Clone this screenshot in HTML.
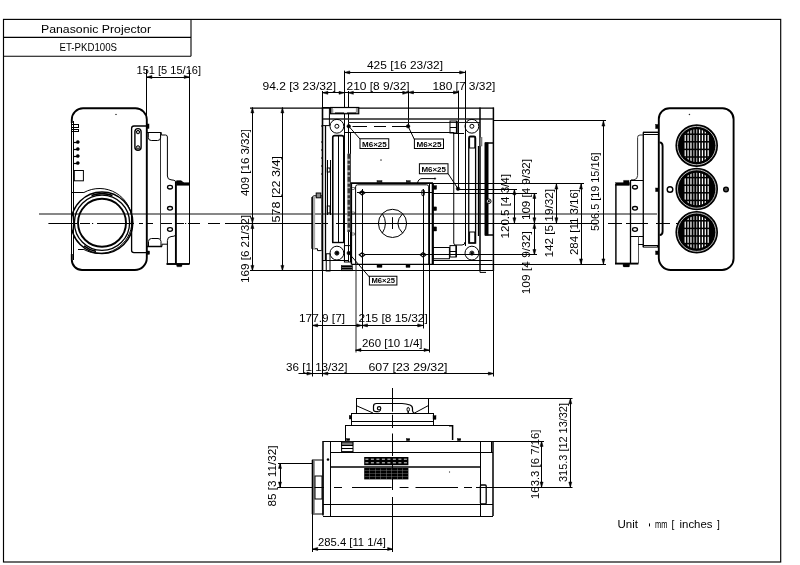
<!DOCTYPE html>
<html><head><meta charset="utf-8"><title>ET-PKD100S</title>
<style>
html,body{margin:0;padding:0;background:#fff;}
body{width:800px;height:565px;overflow:hidden;font-family:"Liberation Sans",sans-serif;}
svg{display:block;filter:grayscale(1);}
svg text{font-family:"Liberation Sans",sans-serif;}
</style></head><body>
<svg width="800" height="565" viewBox="0 0 800 565">
<rect x="0" y="0" width="800" height="565" fill="#fff"/>

<g id="frame">
<rect x="3.5" y="19.4" width="777.2" height="542.6" fill="none" stroke="#000" stroke-width="1.15"/>
<path d="M3.5 37.4 H191 M3.5 56.3 H191 M191 19.4 V56.3" fill="none" stroke="#000" stroke-width="1.1"/>
<text x="41" y="33.2" font-size="10" fill="#000" text-anchor="start" textLength="110" lengthAdjust="spacingAndGlyphs">Panasonic Projector</text>
<text x="59.5" y="51" font-size="10.4" fill="#000" text-anchor="start" textLength="57.5" lengthAdjust="spacingAndGlyphs">ET-PKD100S</text>
</g>
<g id="centre">
<path d="M39 214 H657" stroke="#111" stroke-width="1.14" fill="none" />
<line x1="48.4" y1="223.5" x2="77" y2="223.5" stroke="#000" stroke-width="1.0" />
<line x1="80" y1="223.5" x2="90" y2="223.5" stroke="#000" stroke-width="1.0" />
<line x1="92" y1="223.5" x2="93.2" y2="223.5" stroke="#000" stroke-width="1.0" />
<line x1="97" y1="223.5" x2="134" y2="223.5" stroke="#000" stroke-width="1.0" />
<line x1="139" y1="223.5" x2="143" y2="223.5" stroke="#000" stroke-width="1.0" />
<line x1="146" y1="223.5" x2="153" y2="223.5" stroke="#000" stroke-width="1.0" />
<line x1="160" y1="223.5" x2="172" y2="223.5" stroke="#000" stroke-width="1.0" />
<line x1="176" y1="223.5" x2="184" y2="223.5" stroke="#000" stroke-width="1.0" />
<line x1="185" y1="223.5" x2="186.2" y2="223.5" stroke="#000" stroke-width="1.0" />
<line x1="188" y1="223.5" x2="200" y2="223.5" stroke="#000" stroke-width="1.0" />
<line x1="208" y1="223.5" x2="220" y2="223.5" stroke="#000" stroke-width="1.0" />
<line x1="225" y1="223.5" x2="328" y2="223.5" stroke="#000" stroke-width="1.0" />
<line x1="336" y1="223.5" x2="597" y2="223.5" stroke="#000" stroke-width="1.0" />
<line x1="608" y1="223.5" x2="622" y2="223.5" stroke="#000" stroke-width="1.0" />
<line x1="626" y1="223.5" x2="648" y2="223.5" stroke="#000" stroke-width="1.0" />
<line x1="656" y1="223.5" x2="670" y2="223.5" stroke="#000" stroke-width="1.0" />
<line x1="676" y1="223.5" x2="680" y2="223.5" stroke="#000" stroke-width="1.0" />
</g>
<g id="leftview">
<path d="M71.8 123 V119.5 A11.2 11.2 0 0 1 83 108.3 H135.5 A11.3 11.3 0 0 1 146.8 119.6 V258 A12 12 0 0 1 134.8 270 H82 A10.2 10.2 0 0 1 71.8 259.8 V254" stroke="#000" stroke-width="1.9" fill="none" />
<line x1="71.5" y1="122" x2="71.5" y2="256" stroke="#000" stroke-width="1.0" />
<line x1="73.5" y1="121" x2="73.5" y2="260" stroke="#000" stroke-width="1.0" />
<line x1="72" y1="124.5" x2="79" y2="124.5" stroke="#000" stroke-width="1.0" />
<line x1="72" y1="127.5" x2="79" y2="127.5" stroke="#000" stroke-width="1.0" />
<line x1="72" y1="129.5" x2="79" y2="129.5" stroke="#000" stroke-width="1.0" />
<line x1="72" y1="131.5" x2="79" y2="131.5" stroke="#000" stroke-width="1.0" />
<line x1="78.5" y1="124.8" x2="78.5" y2="127.2" stroke="#000" stroke-width="1.0" />
<line x1="78.5" y1="129.3" x2="78.5" y2="131.6" stroke="#000" stroke-width="1.0" />
<circle cx="77.8" cy="142" r="1.6" stroke="#000" stroke-width="0.5" fill="#000"/>
<line x1="74" y1="142.5" x2="77" y2="142.5" stroke="#000" stroke-width="1.2" />
<circle cx="77.8" cy="149" r="1.6" stroke="#000" stroke-width="0.5" fill="#000"/>
<line x1="74" y1="149.5" x2="77" y2="149.5" stroke="#000" stroke-width="1.2" />
<circle cx="77.8" cy="156" r="1.6" stroke="#000" stroke-width="0.5" fill="#000"/>
<line x1="74" y1="156.5" x2="77" y2="156.5" stroke="#000" stroke-width="1.2" />
<circle cx="77.8" cy="163" r="1.6" stroke="#000" stroke-width="0.5" fill="#000"/>
<line x1="74" y1="163.5" x2="77" y2="163.5" stroke="#000" stroke-width="1.2" />
<rect x="74.3" y="170.5" width="9.1" height="10.3" rx="0" stroke="#000" stroke-width="1.0" fill="none"/>
<circle cx="116" cy="114.4" r="0.5" stroke="#000" stroke-width="0.3" fill="#000"/>
<path d="M147 126 H134 Q131.6 126 131.6 128.5 V250.5 Q131.6 252.6 134 252.6 H147" stroke="#000" stroke-width="1.32" fill="none" />
<rect x="134.9" y="128.6" width="6.2" height="21.8" rx="3.1" stroke="#000" stroke-width="1.4" fill="none"/>
<circle cx="138" cy="132.1" r="1.7" stroke="#000" stroke-width="1.0" fill="#aaa"/>
<circle cx="138" cy="147.4" r="1.7" stroke="#000" stroke-width="1.0" fill="#aaa"/>
<rect x="147" y="124" width="2" height="4.4" rx="0" stroke="#000" stroke-width="0.5" fill="#000"/>
<rect x="147" y="251" width="2.6" height="3.4" rx="0" stroke="#000" stroke-width="0.4" fill="#000"/>
<path d="M147 132.5 H161.3 V135" stroke="#000" stroke-width="1.0" fill="none" />
<line x1="160.5" y1="135" x2="160.5" y2="239" stroke="#333" stroke-width="1.0" />
<path d="M148.3 132.5 V137.5 Q148.3 140.5 151.3 140.5 H157.6 Q160.6 140.5 160.6 137.5 V132.5" stroke="#000" stroke-width="1.0" fill="none" />
<path d="M161.3 135 H165.5 Q167.4 135 167.4 137 V176 Q167.4 179.6 171 179.8 Q174.5 180 175.6 181.2" stroke="#000" stroke-width="1.0" fill="none" />
<path d="M148.5 246.5 V241.5 Q148.5 238.5 151.5 238.5 H158 Q161 238.5 161 241.5 V246.5" stroke="#000" stroke-width="1.0" fill="none" />
<line x1="147" y1="246.5" x2="162" y2="246.5" stroke="#000" stroke-width="1.5" />
<path d="M162 246.5 V244.2 H167.4" stroke="#000" stroke-width="1.0" fill="none" />
<path d="M175.6 235.3 Q174.5 236.4 171 236.6 Q167.4 236.8 167.4 240.5 V264" stroke="#000" stroke-width="1.0" fill="none" />
<line x1="166.5" y1="264" x2="189.6" y2="264" stroke="#000" stroke-width="1.9" />
<line x1="175.9" y1="181.2" x2="175.9" y2="264" stroke="#000" stroke-width="1.9" />
<line x1="189.5" y1="182" x2="189.5" y2="264" stroke="#000" stroke-width="1.0" />
<rect x="176.5" y="182.6" width="13.0" height="2.8" rx="0" stroke="#000" stroke-width="0.3" fill="#000"/>
<path d="M176.5 183 V180.6 H181 L184 182.8 Z" stroke="#000" stroke-width="0.3" fill="#000" />
<rect x="176.6" y="264" width="5.4" height="2.8" rx="1" stroke="#000" stroke-width="0.3" fill="#000"/>
<ellipse cx="170" cy="187.2" rx="2.5" ry="1.8" stroke="#000" stroke-width="1.3" fill="#fff"/>
<ellipse cx="170" cy="208.3" rx="2.5" ry="1.8" stroke="#000" stroke-width="1.3" fill="#fff"/>
<ellipse cx="170" cy="229.5" rx="2.5" ry="1.8" stroke="#000" stroke-width="1.3" fill="#fff"/>
<clipPath id="cl"><rect x="71.8" y="150" width="80" height="122"/></clipPath>
<g clip-path="url(#cl)">
<circle cx="102" cy="222.8" r="30.8" stroke="#000" stroke-width="1.5" fill="none"/>
<path d="M72 192.5 H83.9 A32.5 32.5 0 1 1 83.9 249.5 H78" stroke="#000" stroke-width="1.0" fill="none" />
</g>
<circle cx="102" cy="222.8" r="27.6" stroke="#000" stroke-width="1.3" fill="none"/>
<circle cx="102" cy="222.8" r="24" stroke="#000" stroke-width="1.9" fill="none"/>
<path d="M91.5 195.6 A29.2 29.2 0 0 1 112.5 195.6" stroke="#000" stroke-width="1.6" fill="none" />
<path d="M84 245.8 A29.2 29.2 0 0 0 96 251.4" stroke="#000" stroke-width="1.6" fill="none" />
</g>
<line x1="146.5" y1="70" x2="146.5" y2="124" stroke="#000" stroke-width="1.0" />
<line x1="189.5" y1="70" x2="189.5" y2="182" stroke="#000" stroke-width="1.0" />
<line x1="146.5" y1="77.5" x2="189.6" y2="77.5" stroke="#000" stroke-width="1.0" />
<path d="M151.90 75.50 L146.5 77 L151.90 78.50 Z" stroke="#000" stroke-width="0.5" fill="#000" />
<path d="M184.20 78.50 L189.6 77 L184.20 75.50 Z" stroke="#000" stroke-width="0.5" fill="#000" />
<text x="136.5" y="74.4" font-size="10" fill="#000" text-anchor="start" textLength="64.5" lengthAdjust="spacingAndGlyphs">151 [5 15/16]</text>
<g id="topview">
<line x1="322.5" y1="91" x2="322.5" y2="107.5" stroke="#000" stroke-width="1.0" />
<line x1="344.5" y1="70.6" x2="344.5" y2="262" stroke="#000" stroke-width="1.0" />
<line x1="348.5" y1="91" x2="348.5" y2="262" stroke="#000" stroke-width="1.0" />
<line x1="408.5" y1="91" x2="408.5" y2="126" stroke="#000" stroke-width="1.0" />
<line x1="458.5" y1="90.6" x2="458.5" y2="189" stroke="#000" stroke-width="1.0" />
<line x1="465.5" y1="70.6" x2="465.5" y2="246" stroke="#000" stroke-width="1.0" />
<path d="M250 108.1 H493.9" stroke="#000" stroke-width="1.2" fill="none" />
<line x1="250" y1="270.5" x2="493.75" y2="270.5" stroke="#000" stroke-width="1.0" />
<line x1="322.5" y1="107.5" x2="322.5" y2="376.5" stroke="#000" stroke-width="1.0" />
<line x1="322.5" y1="107.5" x2="322.5" y2="270.8" stroke="#000" stroke-width="1.6" />
<line x1="325.5" y1="126" x2="325.5" y2="260" stroke="#000" stroke-width="1.3" />
<line x1="493.4" y1="107.5" x2="493.4" y2="270.8" stroke="#000" stroke-width="1.5" />
<line x1="493.5" y1="271" x2="493.5" y2="376.5" stroke="#000" stroke-width="1.0" />
<line x1="322.5" y1="119" x2="493" y2="119" stroke="#222" stroke-width="1.7" />
<line x1="348" y1="122.5" x2="480" y2="122.5" stroke="#222" stroke-width="1.0" />
<line x1="352.5" y1="126.5" x2="367" y2="126.5" stroke="#000" stroke-width="1.0" />
<line x1="374" y1="126.5" x2="386" y2="126.5" stroke="#000" stroke-width="1.0" />
<line x1="392" y1="126.5" x2="408" y2="126.5" stroke="#000" stroke-width="1.0" />
<line x1="344.4" y1="132.5" x2="453.75" y2="132.5" stroke="#000" stroke-width="1.0" />
<line x1="453" y1="133.5" x2="464" y2="133.5" stroke="#000" stroke-width="1.0" />
<rect x="330.6" y="107.5" width="28.15" height="6.25" rx="0" stroke="#000" stroke-width="1.2" fill="#999"/>
<rect x="333.6" y="108.5" width="22.1" height="3.8" rx="0" stroke="#fff" stroke-width="0.5" fill="#fff"/>
<line x1="335" y1="113.2" x2="344" y2="113.2" stroke="#000" stroke-width="1.44" />
<line x1="347" y1="113.2" x2="356" y2="113.2" stroke="#000" stroke-width="1.44" />
<rect x="322.5" y="107.5" width="6.9" height="18.1" rx="0" stroke="#000" stroke-width="1.0" fill="none"/>
<circle cx="336.9" cy="126.25" r="6.9" stroke="#000" stroke-width="1.0" fill="none"/>
<circle cx="336.9" cy="126.25" r="2.0" stroke="#000" stroke-width="1.0" fill="none"/>
<circle cx="471.9" cy="126.25" r="6.9" stroke="#000" stroke-width="1.0" fill="none"/>
<circle cx="471.9" cy="126.25" r="2.0" stroke="#000" stroke-width="1.0" fill="none"/>
<circle cx="336.9" cy="253.1" r="6.9" stroke="#000" stroke-width="1.0" fill="none"/>
<circle cx="336.9" cy="253.1" r="2.0" stroke="#000" stroke-width="1.0" fill="none"/>
<circle cx="471.9" cy="253.1" r="6.9" stroke="#000" stroke-width="1.0" fill="none"/>
<circle cx="471.9" cy="253.1" r="2.0" stroke="#000" stroke-width="1.0" fill="none"/>
<circle cx="336.9" cy="253.1" r="1.6" stroke="#000" stroke-width="0.5" fill="#000"/>
<circle cx="471.9" cy="253.1" r="1.2" stroke="#000" stroke-width="0.5" fill="#000"/>
<path d="M332.75 242.5 V137.6 Q332.75 135.6 334.75 135.6 H341.75 Q343.75 135.6 343.75 137.6" stroke="#000" stroke-width="1.6" fill="none" />
<line x1="332" y1="242.5" x2="344.4" y2="242.5" stroke="#000" stroke-width="1.4" />
<line x1="338.5" y1="136" x2="338.5" y2="242" stroke="#000" stroke-width="1.0" />
<line x1="343.5" y1="136" x2="343.5" y2="242" stroke="#000" stroke-width="1.0" />
<rect x="327.25" y="168" width="2.75" height="4" rx="0" stroke="#000" stroke-width="1.0" fill="none"/>
<rect x="327.25" y="206" width="2.75" height="7" rx="0" stroke="#000" stroke-width="1.0" fill="none"/>
<line x1="327.5" y1="160" x2="327.5" y2="215" stroke="#000" stroke-width="1.0" />
<line x1="330.5" y1="160" x2="330.5" y2="215" stroke="#000" stroke-width="1.0" />
<line x1="350.5" y1="132" x2="350.5" y2="262" stroke="#000" stroke-width="1.0" />
<line x1="348.8" y1="153.75" x2="348.8" y2="232" stroke="#aaa" stroke-width="3.2"/>
<line x1="348.8" y1="153.75" x2="348.8" y2="232" stroke="#333" stroke-width="2.4" stroke-dasharray="5 2 3 1.5"/>
<line x1="321.3" y1="126" x2="322.5" y2="126" stroke="#000" stroke-width="1.44" />
<line x1="321.3" y1="142" x2="322.5" y2="142" stroke="#000" stroke-width="1.44" />
<line x1="321.3" y1="150" x2="322.5" y2="150" stroke="#000" stroke-width="1.44" />
<line x1="321.3" y1="158" x2="322.5" y2="158" stroke="#000" stroke-width="1.44" />
<line x1="321.3" y1="166" x2="322.5" y2="166" stroke="#000" stroke-width="1.44" />
<line x1="321.3" y1="174" x2="322.5" y2="174" stroke="#000" stroke-width="1.44" />
<path d="M322.5 195.8 H314 Q312.3 195.8 312.3 198 V248.75 H317.5 V250.6 H322.5" stroke="#000" stroke-width="1.0" fill="none" />
<line x1="321.5" y1="196" x2="321.5" y2="250.6" stroke="#555" stroke-width="1.0" />
<rect x="313" y="197" width="2" height="51.75" rx="0" stroke="#aaa" stroke-width="0.3" fill="#aaa"/>
<line x1="312.1" y1="197" x2="312.1" y2="248.75" stroke="#000" stroke-width="1.4" />
<rect x="316.2" y="193" width="4.6" height="4.8" rx="0" stroke="#000" stroke-width="1.0" fill="#888"/>
<line x1="312.5" y1="248" x2="312.5" y2="376.5" stroke="#000" stroke-width="1.0" />
<rect x="450" y="121" width="6.9" height="12" rx="0" stroke="#000" stroke-width="1.0" fill="none"/>
<line x1="456.7" y1="121" x2="456.7" y2="133" stroke="#000" stroke-width="1.6" />
<line x1="450" y1="127.5" x2="456.9" y2="127.5" stroke="#000" stroke-width="1.0" />
<line x1="480" y1="107.5" x2="480" y2="270.8" stroke="#000" stroke-width="1.5" />
<rect x="480" y="137.5" width="2" height="8.5" rx="0" stroke="#555" stroke-width="0.5" fill="#888"/>
<path d="M468.75 243 V138 Q468.75 136.25 470.5 136.25 H474 Q475.6 136.25 475.6 138 V243 Z" stroke="#000" stroke-width="1.3" fill="none" />
<rect x="469.6" y="137" width="5.2" height="11" rx="0" stroke="#000" stroke-width="1.0" fill="none"/>
<rect x="469.6" y="232" width="5.2" height="11" rx="0" stroke="#000" stroke-width="1.0" fill="none"/>
<line x1="478.5" y1="146" x2="478.5" y2="236" stroke="#000" stroke-width="1.3" />
<rect x="485" y="143" width="3" height="92" rx="0" stroke="#000" stroke-width="1.0" fill="#000"/>
<path d="M485 143 H493 M485 235 H493" stroke="#000" stroke-width="1.4" fill="none" />
<circle cx="488.75" cy="201.25" r="2.3" stroke="#000" stroke-width="1.0" fill="#fff"/>
<circle cx="488.75" cy="201.25" r="0.9" stroke="#000" stroke-width="0.4" fill="#000"/>
<path d="M453.75 132.25 V243 Q453.75 245 455.75 245 H462 Q465 245 465 242" stroke="#000" stroke-width="1.0" fill="none" />
<line x1="433" y1="260.5" x2="492.5" y2="260.5" stroke="#000" stroke-width="1.0" />
<line x1="433" y1="264.5" x2="493" y2="264.5" stroke="#000" stroke-width="1.0" />
<rect x="433" y="247.5" width="16.4" height="11.25" rx="0" stroke="#000" stroke-width="1.0" fill="none"/>
<rect x="450" y="245.6" width="6.25" height="11.4" rx="0" stroke="#000" stroke-width="1.0" fill="none"/>
<line x1="456.2" y1="245.6" x2="456.2" y2="257" stroke="#000" stroke-width="1.5" />
<line x1="450" y1="251.5" x2="456" y2="251.5" stroke="#000" stroke-width="1.0" />
<line x1="450" y1="254.5" x2="456" y2="254.5" stroke="#000" stroke-width="1.0" />
<path d="M480 270.8 V272.4 H486" stroke="#000" stroke-width="1.0" fill="none" />
<line x1="322.5" y1="260.5" x2="348.75" y2="260.5" stroke="#000" stroke-width="1.0" />
<rect x="326.25" y="253.75" width="3.75" height="17.25" rx="0" stroke="#000" stroke-width="1.0" fill="none"/>
<rect x="341.25" y="265.6" width="11.25" height="5.2" rx="0" stroke="#000" stroke-width="0.5" fill="#000"/>
<line x1="342" y1="267.5" x2="352" y2="267.5" stroke="#fff" stroke-width="0.4" />
<line x1="342" y1="269.5" x2="352" y2="269.5" stroke="#fff" stroke-width="0.4" />
<rect x="344.4" y="245.6" width="6.85" height="16.4" rx="0" stroke="#000" stroke-width="1.0" fill="none"/>
<line x1="350.6" y1="183.1" x2="433" y2="183.1" stroke="#000" stroke-width="1.6" />
<line x1="351.5" y1="264.4" x2="433" y2="264.4" stroke="#000" stroke-width="1.4" />
<line x1="351.4" y1="183" x2="351.4" y2="264.4" stroke="#000" stroke-width="1.44" />
<line x1="432.8" y1="183" x2="432.8" y2="264.4" stroke="#000" stroke-width="2.2" />
<line x1="429.5" y1="184" x2="429.5" y2="264" stroke="#000" stroke-width="1.0" />
<path d="M355.6 264 V186.8 Q355.6 184.8 357.6 184.8 H426.7 Q428.7 184.8 428.7 186.8 V264" stroke="#000" stroke-width="1.0" fill="none" />
<rect x="377" y="180.6" width="5" height="2.4" rx="0" stroke="#000" stroke-width="0.4" fill="#222"/>
<rect x="406.2" y="180.6" width="4.0" height="2.4" rx="0" stroke="#000" stroke-width="0.4" fill="#222"/>
<rect x="377" y="264.6" width="5" height="2.8" rx="0" stroke="#000" stroke-width="0.4" fill="#000"/>
<rect x="406" y="264.6" width="4" height="2.8" rx="0" stroke="#000" stroke-width="0.4" fill="#000"/>
<rect x="433" y="185.6" width="3.6" height="3.8" rx="0" stroke="#000" stroke-width="0.4" fill="#000"/>
<rect x="433" y="206.9" width="3.6" height="3.7" rx="0" stroke="#000" stroke-width="0.4" fill="#000"/>
<rect x="433" y="226.9" width="3.6" height="4.1" rx="0" stroke="#000" stroke-width="0.4" fill="#000"/>
<rect x="351.6" y="187.5" width="2.9" height="2.0" rx="0" stroke="#000" stroke-width="0.5" fill="none"/>
<rect x="351.6" y="212" width="2.9" height="2" rx="0" stroke="#000" stroke-width="0.5" fill="none"/>
<rect x="351.6" y="233" width="2.9" height="2" rx="0" stroke="#000" stroke-width="0.5" fill="none"/>
<path d="M417.5 183 Q418.5 178.6 422 178.6 H435" stroke="#000" stroke-width="1.0" fill="none" />
<circle cx="435" cy="178.6" r="0.8" stroke="#000" stroke-width="0.4" fill="#000"/>
<line x1="357" y1="192.5" x2="433" y2="192.5" stroke="#000" stroke-width="1.0" />
<line x1="364" y1="254.5" x2="433" y2="254.5" stroke="#000" stroke-width="1.0" />
<line x1="362.5" y1="189" x2="362.5" y2="328.5" stroke="#000" stroke-width="1.0" />
<line x1="423.5" y1="189" x2="423.5" y2="328.5" stroke="#000" stroke-width="1.0" />
<path d="M359.3 192.8 L362.1 190.70000000000002 L364.90000000000003 192.8 L362.1 194.9 Z" stroke="#000" stroke-width="1.2" fill="none" />
<path d="M359.3 254.8 L362.1 252.70000000000002 L364.90000000000003 254.8 L362.1 256.90000000000003 Z" stroke="#000" stroke-width="1.2" fill="none" />
<rect x="421.90000000000003" y="189.8" width="2.4" height="6.0" rx="1.2" stroke="#000" stroke-width="1.0" fill="none"/>
<path d="M420.2 254.8 L423.1 252.5 L426 254.8 L423.1 257.1 Z" stroke="#000" stroke-width="1.2" fill="none" />
<circle cx="381" cy="160" r="0.5" stroke="#000" stroke-width="0.3" fill="#000"/>
<circle cx="392.5" cy="223.4" r="14.1" stroke="#000" stroke-width="1.0" fill="none"/>
<path d="M382.3 213.6 Q388.6 223.4 382.3 233.2" stroke="#000" stroke-width="1.0" fill="none" />
<path d="M402.7 213.6 Q393 223.4 402.7 233.2" stroke="#000" stroke-width="1.0" fill="none" />
<line x1="392.5" y1="217.2" x2="392.5" y2="229" stroke="#000" stroke-width="1.0" />
<path d="M348.75 126.25 L360 139" stroke="#000" stroke-width="1.0" fill="none" />
<rect x="360" y="138.75" width="28.75" height="9.75" rx="0" stroke="#000" stroke-width="1.0" fill="#fff"/>
<text x="362" y="146.5" font-size="7.8" font-weight="bold" fill="#000" textLength="24.8" lengthAdjust="spacingAndGlyphs">M6×25</text>
<path d="M408.1 126.25 L414.4 139.5" stroke="#000" stroke-width="1.0" fill="none" />
<rect x="414.4" y="139" width="29.1" height="9.5" rx="0" stroke="#000" stroke-width="1.0" fill="#fff"/>
<text x="416.4" y="146.5" font-size="7.8" font-weight="bold" fill="#000" textLength="25.1" lengthAdjust="spacingAndGlyphs">M6×25</text>
<path d="M448 173.5 L458 188.75" stroke="#000" stroke-width="1.0" fill="none" />
<rect x="419.4" y="163.75" width="28.6" height="10.0" rx="0" stroke="#000" stroke-width="1.0" fill="#fff"/>
<text x="421.4" y="171.75" font-size="7.8" font-weight="bold" fill="#000" textLength="24.6" lengthAdjust="spacingAndGlyphs">M6×25</text>
<path d="M348.75 253.1 L369.4 277" stroke="#000" stroke-width="1.0" fill="none" />
<rect x="369.4" y="276.25" width="27.5" height="8.75" rx="0" stroke="#000" stroke-width="1.0" fill="#fff"/>
<text x="371.4" y="283.0" font-size="7.8" font-weight="bold" fill="#000" textLength="23.5" lengthAdjust="spacingAndGlyphs">M6×25</text>
<circle cx="348.75" cy="126.25" r="1.8" stroke="#000" stroke-width="0.5" fill="#000"/>
<circle cx="408.1" cy="126.25" r="1.8" stroke="#000" stroke-width="0.5" fill="#000"/>
<circle cx="458" cy="188.75" r="1.8" stroke="#000" stroke-width="0.5" fill="#000"/>
<circle cx="348.75" cy="253.1" r="1.8" stroke="#000" stroke-width="0.5" fill="#000"/>
<line x1="493" y1="120.5" x2="606" y2="120.5" stroke="#000" stroke-width="1.0" />
<line x1="433" y1="183.5" x2="584" y2="183.5" stroke="#000" stroke-width="1.0" />
<line x1="458" y1="189.5" x2="517" y2="189.5" stroke="#000" stroke-width="1.0" />
<line x1="433" y1="193.5" x2="537" y2="193.5" stroke="#000" stroke-width="1.0" />
<line x1="433" y1="254.5" x2="537" y2="254.5" stroke="#000" stroke-width="1.0" />
<line x1="493" y1="264.5" x2="606" y2="264.5" stroke="#000" stroke-width="1.0" />
<path d="M356 262 V352.5" stroke="#222" stroke-width="1.0" fill="none" />
<line x1="429.5" y1="262" x2="429.5" y2="352.5" stroke="#000" stroke-width="1.0" />
</g>
<line x1="344.4" y1="72.5" x2="465" y2="72.5" stroke="#000" stroke-width="1.0" />
<path d="M349.80 70.90 L344.4 72.4 L349.80 73.90 Z" stroke="#000" stroke-width="0.5" fill="#000" />
<path d="M459.60 73.90 L465 72.4 L459.60 70.90 Z" stroke="#000" stroke-width="0.5" fill="#000" />
<text x="367" y="69" font-size="10" fill="#000" text-anchor="start" textLength="76" lengthAdjust="spacingAndGlyphs">425 [16 23/32]</text>
<line x1="322.5" y1="92.5" x2="344.4" y2="92.5" stroke="#000" stroke-width="1.0" />
<path d="M327.90 91.30 L322.5 92.8 L327.90 94.30 Z" stroke="#000" stroke-width="0.5" fill="#000" />
<path d="M339.00 94.30 L344.4 92.8 L339.00 91.30 Z" stroke="#000" stroke-width="0.5" fill="#000" />
<line x1="344.4" y1="92.5" x2="348" y2="92.5" stroke="#000" stroke-width="1.0" />
<text x="262.5" y="90" font-size="10" fill="#000" text-anchor="start" textLength="73.5" lengthAdjust="spacingAndGlyphs">94.2 [3 23/32]</text>
<line x1="348" y1="92.5" x2="408.1" y2="92.5" stroke="#000" stroke-width="1.0" />
<path d="M353.40 91.30 L348 92.8 L353.40 94.30 Z" stroke="#000" stroke-width="0.5" fill="#000" />
<path d="M402.70 94.30 L408.1 92.8 L402.70 91.30 Z" stroke="#000" stroke-width="0.5" fill="#000" />
<text x="346.6" y="90" font-size="10" fill="#000" text-anchor="start" textLength="63" lengthAdjust="spacingAndGlyphs">210 [8 9/32]</text>
<line x1="408.1" y1="92.5" x2="458.9" y2="92.5" stroke="#000" stroke-width="1.0" />
<path d="M413.50 90.90 L408.1 92.4 L413.50 93.90 Z" stroke="#000" stroke-width="0.5" fill="#000" />
<path d="M453.50 93.90 L458.9 92.4 L453.50 90.90 Z" stroke="#000" stroke-width="0.5" fill="#000" />
<text x="432.4" y="90" font-size="10" fill="#000" text-anchor="start" textLength="63" lengthAdjust="spacingAndGlyphs">180 [7 3/32]</text>
<line x1="252.5" y1="107.5" x2="252.5" y2="223.2" stroke="#000" stroke-width="1.0" />
<path d="M253.90 112.90 L252.4 107.5 L250.90 112.90 Z" stroke="#000" stroke-width="0.5" fill="#000" />
<path d="M250.90 217.80 L252.4 223.2 L253.90 217.80 Z" stroke="#000" stroke-width="0.5" fill="#000" />
<line x1="252.5" y1="223.2" x2="252.5" y2="270.8" stroke="#000" stroke-width="1.0" />
<path d="M253.90 228.60 L252.4 223.2 L250.90 228.60 Z" stroke="#000" stroke-width="0.5" fill="#000" />
<path d="M250.90 265.40 L252.4 270.8 L253.90 265.40 Z" stroke="#000" stroke-width="0.5" fill="#000" />
<line x1="282.5" y1="107.5" x2="282.5" y2="270.8" stroke="#000" stroke-width="1.0" />
<path d="M283.90 112.90 L282.4 107.5 L280.90 112.90 Z" stroke="#000" stroke-width="0.5" fill="#000" />
<path d="M280.90 265.40 L282.4 270.8 L283.90 265.40 Z" stroke="#000" stroke-width="0.5" fill="#000" />
<text x="248.6" y="196" font-size="10" fill="#000" text-anchor="start" textLength="67" lengthAdjust="spacingAndGlyphs" transform="rotate(-90 248.6 196)">409 [16 3/32]</text>
<text x="279.6" y="222.5" font-size="10" fill="#000" text-anchor="start" textLength="66.5" lengthAdjust="spacingAndGlyphs" transform="rotate(-90 279.6 222.5)">578 [22 3/4]</text>
<text x="248.6" y="283" font-size="10" fill="#000" text-anchor="start" textLength="68" lengthAdjust="spacingAndGlyphs" transform="rotate(-90 248.6 283)">169 [6 21/32]</text>
<line x1="514.5" y1="189.3" x2="514.5" y2="223.2" stroke="#000" stroke-width="1.0" />
<path d="M515.90 194.70 L514.4 189.3 L512.90 194.70 Z" stroke="#000" stroke-width="0.5" fill="#000" />
<path d="M512.90 217.80 L514.4 223.2 L515.90 217.80 Z" stroke="#000" stroke-width="0.5" fill="#000" />
<text x="509.2" y="238.5" font-size="10" fill="#000" text-anchor="start" textLength="64.5" lengthAdjust="spacingAndGlyphs" transform="rotate(-90 509.2 238.5)">120.5 [4 3/4]</text>
<line x1="534.5" y1="193" x2="534.5" y2="223.2" stroke="#000" stroke-width="1.0" />
<path d="M535.90 198.40 L534.4 193 L532.90 198.40 Z" stroke="#000" stroke-width="0.5" fill="#000" />
<path d="M532.90 217.80 L534.4 223.2 L535.90 217.80 Z" stroke="#000" stroke-width="0.5" fill="#000" />
<line x1="534.5" y1="223.2" x2="534.5" y2="254.9" stroke="#000" stroke-width="1.0" />
<path d="M535.90 228.60 L534.4 223.2 L532.90 228.60 Z" stroke="#000" stroke-width="0.5" fill="#000" />
<path d="M532.90 249.50 L534.4 254.9 L535.90 249.50 Z" stroke="#000" stroke-width="0.5" fill="#000" />
<text x="530" y="220" font-size="10" fill="#000" text-anchor="start" textLength="61" lengthAdjust="spacingAndGlyphs" transform="rotate(-90 530 220)">109 [4 9/32]</text>
<text x="529.8" y="294.3" font-size="10" fill="#000" text-anchor="start" textLength="63" lengthAdjust="spacingAndGlyphs" transform="rotate(-90 529.8 294.3)">109 [4 9/32]</text>
<line x1="556.5" y1="183.7" x2="556.5" y2="223.2" stroke="#000" stroke-width="1.0" />
<path d="M557.90 189.10 L556.4 183.7 L554.90 189.10 Z" stroke="#000" stroke-width="0.5" fill="#000" />
<path d="M554.90 217.80 L556.4 223.2 L557.90 217.80 Z" stroke="#000" stroke-width="0.5" fill="#000" />
<text x="552.6" y="257.5" font-size="10" fill="#000" text-anchor="start" textLength="68.5" lengthAdjust="spacingAndGlyphs" transform="rotate(-90 552.6 257.5)">142 [5 19/32]</text>
<line x1="581.5" y1="183.7" x2="581.5" y2="264.3" stroke="#000" stroke-width="1.0" />
<path d="M582.50 189.10 L581 183.7 L579.50 189.10 Z" stroke="#000" stroke-width="0.5" fill="#000" />
<path d="M579.50 258.90 L581 264.3 L582.50 258.90 Z" stroke="#000" stroke-width="0.5" fill="#000" />
<text x="577.5" y="255" font-size="10" fill="#000" text-anchor="start" textLength="66" lengthAdjust="spacingAndGlyphs" transform="rotate(-90 577.5 255)">284 [11 3/16]</text>
<line x1="603.5" y1="120.7" x2="603.5" y2="264.3" stroke="#000" stroke-width="1.0" />
<path d="M604.90 126.10 L603.4 120.7 L601.90 126.10 Z" stroke="#000" stroke-width="0.5" fill="#000" />
<path d="M601.90 258.90 L603.4 264.3 L604.90 258.90 Z" stroke="#000" stroke-width="0.5" fill="#000" />
<text x="599" y="231" font-size="10" fill="#000" text-anchor="start" textLength="78.5" lengthAdjust="spacingAndGlyphs" transform="rotate(-90 599 231)">506.5 [19 15/16]</text>
<line x1="312.3" y1="325.5" x2="362.1" y2="325.5" stroke="#000" stroke-width="1.0" />
<path d="M317.70 323.90 L312.3 325.4 L317.70 326.90 Z" stroke="#000" stroke-width="0.5" fill="#000" />
<path d="M356.70 326.90 L362.1 325.4 L356.70 323.90 Z" stroke="#000" stroke-width="0.5" fill="#000" />
<text x="299" y="322" font-size="10" fill="#000" text-anchor="start" textLength="46" lengthAdjust="spacingAndGlyphs">177.9 [7]</text>
<line x1="362.1" y1="325.5" x2="423.1" y2="325.5" stroke="#000" stroke-width="1.0" />
<path d="M367.50 323.90 L362.1 325.4 L367.50 326.90 Z" stroke="#000" stroke-width="0.5" fill="#000" />
<path d="M417.70 326.90 L423.1 325.4 L417.70 323.90 Z" stroke="#000" stroke-width="0.5" fill="#000" />
<text x="358.4" y="322" font-size="10" fill="#000" text-anchor="start" textLength="69.4" lengthAdjust="spacingAndGlyphs">215 [8 15/32]</text>
<line x1="355.6" y1="350.5" x2="429.4" y2="350.5" stroke="#000" stroke-width="1.0" />
<path d="M361.00 348.50 L355.6 350 L361.00 351.50 Z" stroke="#000" stroke-width="0.5" fill="#000" />
<path d="M424.00 351.50 L429.4 350 L424.00 348.50 Z" stroke="#000" stroke-width="0.5" fill="#000" />
<text x="362" y="346.8" font-size="10" fill="#000" text-anchor="start" textLength="60.5" lengthAdjust="spacingAndGlyphs">260 [10 1/4]</text>
<line x1="298.5" y1="373.5" x2="493.75" y2="373.5" stroke="#000" stroke-width="1.0" />
<path d="M306.90 375.10 L312.3 373.6 L306.90 372.10 Z" stroke="#000" stroke-width="0.5" fill="#000" />
<path d="M327.90 372.10 L322.5 373.6 L327.90 375.10 Z" stroke="#000" stroke-width="0.5" fill="#000" />
<path d="M488.35 375.10 L493.75 373.6 L488.35 372.10 Z" stroke="#000" stroke-width="0.5" fill="#000" />
<text x="286" y="370.6" font-size="10" fill="#000" text-anchor="start" textLength="61.5" lengthAdjust="spacingAndGlyphs">36 [1 13/32]</text>
<text x="368.5" y="370.6" font-size="10" fill="#000" text-anchor="start" textLength="79" lengthAdjust="spacingAndGlyphs">607 [23 29/32]</text>
<g id="rightview">
<path d="M669.5 108.3 H722.6 A11 11 0 0 1 733.6 119.3 V258.5 A11.5 11.5 0 0 1 722.1 270 H670.8 A12 12 0 0 1 658.8 258 V119 A10.7 10.7 0 0 1 669.5 108.3 Z" stroke="#000" stroke-width="1.9" fill="none" />
<circle cx="689.4" cy="114.4" r="0.5" stroke="#000" stroke-width="0.3" fill="#000"/>
<defs><clipPath id="fc"><circle cx="0" cy="0" r="16.3"/></clipPath></defs>
<g transform="translate(696.7 145.6)">
<circle cx="0" cy="0" r="20.6" stroke="#000" stroke-width="1.4" fill="#000"/>
<circle cx="0" cy="0" r="19.2" stroke="#bbb" stroke-width="1.0" fill="none"/>
<g clip-path="url(#fc)">
<rect x="-12.10" y="-18.25" width="1.24" height="6.1" fill="#fff"/>
<rect x="-9.23" y="-18.25" width="1.24" height="6.1" fill="#fff"/>
<rect x="-6.36" y="-18.25" width="1.24" height="6.1" fill="#fff"/>
<rect x="-3.49" y="-18.25" width="1.24" height="6.1" fill="#aaa"/>
<rect x="-0.62" y="-18.25" width="1.24" height="6.1" fill="#aaa"/>
<rect x="2.25" y="-18.25" width="1.24" height="6.1" fill="#fff"/>
<rect x="5.12" y="-18.25" width="1.24" height="6.1" fill="#fff"/>
<rect x="7.99" y="-18.25" width="1.24" height="6.1" fill="#fff"/>
<rect x="10.86" y="-18.25" width="1.24" height="6.1" fill="#fff"/>
<rect x="-12.10" y="-10.65" width="1.24" height="6.1" fill="#fff"/>
<rect x="-9.23" y="-10.65" width="1.24" height="6.1" fill="#fff"/>
<rect x="-6.36" y="-10.65" width="1.24" height="6.1" fill="#fff"/>
<rect x="-3.49" y="-10.65" width="1.24" height="6.1" fill="#aaa"/>
<rect x="-0.62" y="-10.65" width="1.24" height="6.1" fill="#aaa"/>
<rect x="2.25" y="-10.65" width="1.24" height="6.1" fill="#fff"/>
<rect x="5.12" y="-10.65" width="1.24" height="6.1" fill="#fff"/>
<rect x="7.99" y="-10.65" width="1.24" height="6.1" fill="#fff"/>
<rect x="10.86" y="-10.65" width="1.24" height="6.1" fill="#fff"/>
<rect x="-12.10" y="-3.05" width="1.24" height="6.1" fill="#fff"/>
<rect x="-9.23" y="-3.05" width="1.24" height="6.1" fill="#fff"/>
<rect x="-6.36" y="-3.05" width="1.24" height="6.1" fill="#fff"/>
<rect x="-3.49" y="-3.05" width="1.24" height="6.1" fill="#aaa"/>
<rect x="-0.62" y="-3.05" width="1.24" height="6.1" fill="#aaa"/>
<rect x="2.25" y="-3.05" width="1.24" height="6.1" fill="#fff"/>
<rect x="5.12" y="-3.05" width="1.24" height="6.1" fill="#fff"/>
<rect x="7.99" y="-3.05" width="1.24" height="6.1" fill="#fff"/>
<rect x="10.86" y="-3.05" width="1.24" height="6.1" fill="#fff"/>
<rect x="-12.10" y="4.55" width="1.24" height="6.1" fill="#fff"/>
<rect x="-9.23" y="4.55" width="1.24" height="6.1" fill="#fff"/>
<rect x="-6.36" y="4.55" width="1.24" height="6.1" fill="#fff"/>
<rect x="-3.49" y="4.55" width="1.24" height="6.1" fill="#aaa"/>
<rect x="-0.62" y="4.55" width="1.24" height="6.1" fill="#aaa"/>
<rect x="2.25" y="4.55" width="1.24" height="6.1" fill="#fff"/>
<rect x="5.12" y="4.55" width="1.24" height="6.1" fill="#fff"/>
<rect x="7.99" y="4.55" width="1.24" height="6.1" fill="#fff"/>
<rect x="10.86" y="4.55" width="1.24" height="6.1" fill="#fff"/>
<rect x="-12.10" y="12.15" width="1.24" height="6.1" fill="#fff"/>
<rect x="-9.23" y="12.15" width="1.24" height="6.1" fill="#fff"/>
<rect x="-6.36" y="12.15" width="1.24" height="6.1" fill="#fff"/>
<rect x="-3.49" y="12.15" width="1.24" height="6.1" fill="#aaa"/>
<rect x="-0.62" y="12.15" width="1.24" height="6.1" fill="#aaa"/>
<rect x="2.25" y="12.15" width="1.24" height="6.1" fill="#fff"/>
<rect x="5.12" y="12.15" width="1.24" height="6.1" fill="#fff"/>
<rect x="7.99" y="12.15" width="1.24" height="6.1" fill="#fff"/>
<rect x="10.86" y="12.15" width="1.24" height="6.1" fill="#fff"/>
</g></g>
<g transform="translate(696.7 189)">
<circle cx="0" cy="0" r="20.6" stroke="#000" stroke-width="1.4" fill="#000"/>
<circle cx="0" cy="0" r="19.2" stroke="#bbb" stroke-width="1.0" fill="none"/>
<g clip-path="url(#fc)">
<rect x="-12.10" y="-18.25" width="1.24" height="6.1" fill="#fff"/>
<rect x="-9.23" y="-18.25" width="1.24" height="6.1" fill="#fff"/>
<rect x="-6.36" y="-18.25" width="1.24" height="6.1" fill="#fff"/>
<rect x="-3.49" y="-18.25" width="1.24" height="6.1" fill="#aaa"/>
<rect x="-0.62" y="-18.25" width="1.24" height="6.1" fill="#aaa"/>
<rect x="2.25" y="-18.25" width="1.24" height="6.1" fill="#fff"/>
<rect x="5.12" y="-18.25" width="1.24" height="6.1" fill="#fff"/>
<rect x="7.99" y="-18.25" width="1.24" height="6.1" fill="#fff"/>
<rect x="10.86" y="-18.25" width="1.24" height="6.1" fill="#fff"/>
<rect x="-12.10" y="-10.65" width="1.24" height="6.1" fill="#fff"/>
<rect x="-9.23" y="-10.65" width="1.24" height="6.1" fill="#fff"/>
<rect x="-6.36" y="-10.65" width="1.24" height="6.1" fill="#fff"/>
<rect x="-3.49" y="-10.65" width="1.24" height="6.1" fill="#aaa"/>
<rect x="-0.62" y="-10.65" width="1.24" height="6.1" fill="#aaa"/>
<rect x="2.25" y="-10.65" width="1.24" height="6.1" fill="#fff"/>
<rect x="5.12" y="-10.65" width="1.24" height="6.1" fill="#fff"/>
<rect x="7.99" y="-10.65" width="1.24" height="6.1" fill="#fff"/>
<rect x="10.86" y="-10.65" width="1.24" height="6.1" fill="#fff"/>
<rect x="-12.10" y="-3.05" width="1.24" height="6.1" fill="#fff"/>
<rect x="-9.23" y="-3.05" width="1.24" height="6.1" fill="#fff"/>
<rect x="-6.36" y="-3.05" width="1.24" height="6.1" fill="#fff"/>
<rect x="-3.49" y="-3.05" width="1.24" height="6.1" fill="#aaa"/>
<rect x="-0.62" y="-3.05" width="1.24" height="6.1" fill="#aaa"/>
<rect x="2.25" y="-3.05" width="1.24" height="6.1" fill="#fff"/>
<rect x="5.12" y="-3.05" width="1.24" height="6.1" fill="#fff"/>
<rect x="7.99" y="-3.05" width="1.24" height="6.1" fill="#fff"/>
<rect x="10.86" y="-3.05" width="1.24" height="6.1" fill="#fff"/>
<rect x="-12.10" y="4.55" width="1.24" height="6.1" fill="#fff"/>
<rect x="-9.23" y="4.55" width="1.24" height="6.1" fill="#fff"/>
<rect x="-6.36" y="4.55" width="1.24" height="6.1" fill="#fff"/>
<rect x="-3.49" y="4.55" width="1.24" height="6.1" fill="#aaa"/>
<rect x="-0.62" y="4.55" width="1.24" height="6.1" fill="#aaa"/>
<rect x="2.25" y="4.55" width="1.24" height="6.1" fill="#fff"/>
<rect x="5.12" y="4.55" width="1.24" height="6.1" fill="#fff"/>
<rect x="7.99" y="4.55" width="1.24" height="6.1" fill="#fff"/>
<rect x="10.86" y="4.55" width="1.24" height="6.1" fill="#fff"/>
<rect x="-12.10" y="12.15" width="1.24" height="6.1" fill="#fff"/>
<rect x="-9.23" y="12.15" width="1.24" height="6.1" fill="#fff"/>
<rect x="-6.36" y="12.15" width="1.24" height="6.1" fill="#fff"/>
<rect x="-3.49" y="12.15" width="1.24" height="6.1" fill="#aaa"/>
<rect x="-0.62" y="12.15" width="1.24" height="6.1" fill="#aaa"/>
<rect x="2.25" y="12.15" width="1.24" height="6.1" fill="#fff"/>
<rect x="5.12" y="12.15" width="1.24" height="6.1" fill="#fff"/>
<rect x="7.99" y="12.15" width="1.24" height="6.1" fill="#fff"/>
<rect x="10.86" y="12.15" width="1.24" height="6.1" fill="#fff"/>
</g></g>
<g transform="translate(696.7 232.2)">
<circle cx="0" cy="0" r="20.6" stroke="#000" stroke-width="1.4" fill="#000"/>
<circle cx="0" cy="0" r="19.2" stroke="#bbb" stroke-width="1.0" fill="none"/>
<g clip-path="url(#fc)">
<rect x="-12.10" y="-18.25" width="1.24" height="6.1" fill="#fff"/>
<rect x="-9.23" y="-18.25" width="1.24" height="6.1" fill="#fff"/>
<rect x="-6.36" y="-18.25" width="1.24" height="6.1" fill="#fff"/>
<rect x="-3.49" y="-18.25" width="1.24" height="6.1" fill="#aaa"/>
<rect x="-0.62" y="-18.25" width="1.24" height="6.1" fill="#aaa"/>
<rect x="2.25" y="-18.25" width="1.24" height="6.1" fill="#fff"/>
<rect x="5.12" y="-18.25" width="1.24" height="6.1" fill="#fff"/>
<rect x="7.99" y="-18.25" width="1.24" height="6.1" fill="#fff"/>
<rect x="10.86" y="-18.25" width="1.24" height="6.1" fill="#fff"/>
<rect x="-12.10" y="-10.65" width="1.24" height="6.1" fill="#fff"/>
<rect x="-9.23" y="-10.65" width="1.24" height="6.1" fill="#fff"/>
<rect x="-6.36" y="-10.65" width="1.24" height="6.1" fill="#fff"/>
<rect x="-3.49" y="-10.65" width="1.24" height="6.1" fill="#aaa"/>
<rect x="-0.62" y="-10.65" width="1.24" height="6.1" fill="#aaa"/>
<rect x="2.25" y="-10.65" width="1.24" height="6.1" fill="#fff"/>
<rect x="5.12" y="-10.65" width="1.24" height="6.1" fill="#fff"/>
<rect x="7.99" y="-10.65" width="1.24" height="6.1" fill="#fff"/>
<rect x="10.86" y="-10.65" width="1.24" height="6.1" fill="#fff"/>
<rect x="-12.10" y="-3.05" width="1.24" height="6.1" fill="#fff"/>
<rect x="-9.23" y="-3.05" width="1.24" height="6.1" fill="#fff"/>
<rect x="-6.36" y="-3.05" width="1.24" height="6.1" fill="#fff"/>
<rect x="-3.49" y="-3.05" width="1.24" height="6.1" fill="#aaa"/>
<rect x="-0.62" y="-3.05" width="1.24" height="6.1" fill="#aaa"/>
<rect x="2.25" y="-3.05" width="1.24" height="6.1" fill="#fff"/>
<rect x="5.12" y="-3.05" width="1.24" height="6.1" fill="#fff"/>
<rect x="7.99" y="-3.05" width="1.24" height="6.1" fill="#fff"/>
<rect x="10.86" y="-3.05" width="1.24" height="6.1" fill="#fff"/>
<rect x="-12.10" y="4.55" width="1.24" height="6.1" fill="#fff"/>
<rect x="-9.23" y="4.55" width="1.24" height="6.1" fill="#fff"/>
<rect x="-6.36" y="4.55" width="1.24" height="6.1" fill="#fff"/>
<rect x="-3.49" y="4.55" width="1.24" height="6.1" fill="#aaa"/>
<rect x="-0.62" y="4.55" width="1.24" height="6.1" fill="#aaa"/>
<rect x="2.25" y="4.55" width="1.24" height="6.1" fill="#fff"/>
<rect x="5.12" y="4.55" width="1.24" height="6.1" fill="#fff"/>
<rect x="7.99" y="4.55" width="1.24" height="6.1" fill="#fff"/>
<rect x="10.86" y="4.55" width="1.24" height="6.1" fill="#fff"/>
<rect x="-12.10" y="12.15" width="1.24" height="6.1" fill="#fff"/>
<rect x="-9.23" y="12.15" width="1.24" height="6.1" fill="#fff"/>
<rect x="-6.36" y="12.15" width="1.24" height="6.1" fill="#fff"/>
<rect x="-3.49" y="12.15" width="1.24" height="6.1" fill="#aaa"/>
<rect x="-0.62" y="12.15" width="1.24" height="6.1" fill="#aaa"/>
<rect x="2.25" y="12.15" width="1.24" height="6.1" fill="#fff"/>
<rect x="5.12" y="12.15" width="1.24" height="6.1" fill="#fff"/>
<rect x="7.99" y="12.15" width="1.24" height="6.1" fill="#fff"/>
<rect x="10.86" y="12.15" width="1.24" height="6.1" fill="#fff"/>
</g></g>
<circle cx="670" cy="189.5" r="2.8" stroke="#000" stroke-width="1.4" fill="none"/>
<circle cx="726" cy="189.4" r="2.3" stroke="#000" stroke-width="1.44" fill="#555"/>
<path d="M659.6 142.4 Q662.6 142.4 662.6 146 V231.5 Q662.6 235 659.6 235" stroke="#000" stroke-width="1.9" fill="none" />
<rect x="655.6" y="124.4" width="2.8" height="4.2" rx="0" stroke="#000" stroke-width="0.4" fill="#000"/>
<rect x="655.6" y="188" width="2.8" height="3.6" rx="0" stroke="#000" stroke-width="0.4" fill="#000"/>
<rect x="655.6" y="251" width="2.8" height="3.6" rx="0" stroke="#000" stroke-width="0.4" fill="#000"/>
<line x1="643" y1="132.3" x2="658.6" y2="132.3" stroke="#000" stroke-width="1.4" />
<line x1="644" y1="134.5" x2="658.6" y2="134.5" stroke="#000" stroke-width="1.0" />
<line x1="643.3" y1="132.3" x2="643.3" y2="247" stroke="#000" stroke-width="1.32" />
<path d="M643 135 H640 Q637.6 135 637.6 137.5 V175.5 Q637.6 179.4 634 179.8 H631" stroke="#333" stroke-width="1.0" fill="none" />
<line x1="630.5" y1="180.5" x2="643" y2="180.5" stroke="#000" stroke-width="1.0" />
<line x1="630.5" y1="236.5" x2="643" y2="236.5" stroke="#000" stroke-width="1.0" />
<line x1="638.5" y1="236.5" x2="638.5" y2="263.5" stroke="#555" stroke-width="1.0" />
<line x1="638" y1="244.5" x2="643" y2="244.5" stroke="#000" stroke-width="1.0" />
<rect x="643.3" y="245.5" width="14.3" height="1.6" rx="0" stroke="#000" stroke-width="1.0" fill="none"/>
<line x1="615.9" y1="184" x2="615.9" y2="263.5" stroke="#000" stroke-width="1.44" />
<line x1="630.5" y1="180" x2="630.5" y2="263.5" stroke="#000" stroke-width="1.3" />
<line x1="615" y1="263.6" x2="638.4" y2="263.6" stroke="#000" stroke-width="1.9" />
<rect x="615.6" y="182.6" width="14.0" height="2.9" rx="0" stroke="#000" stroke-width="0.3" fill="#000"/>
<path d="M623.5 183 V180.4 H629 V183 Z" stroke="#000" stroke-width="0.3" fill="#000" />
<rect x="623" y="263.6" width="6.6" height="3.3" rx="1" stroke="#000" stroke-width="0.3" fill="#000"/>
<ellipse cx="635" cy="187.2" rx="2.5" ry="1.8" stroke="#000" stroke-width="1.3" fill="#fff"/>
<ellipse cx="635" cy="208.3" rx="2.5" ry="1.8" stroke="#000" stroke-width="1.3" fill="#fff"/>
<ellipse cx="635" cy="229.5" rx="2.5" ry="1.8" stroke="#000" stroke-width="1.3" fill="#fff"/>
</g>
<g id="bottomview">
<line x1="392.5" y1="388" x2="392.5" y2="411.7" stroke="#000" stroke-width="1.0" />
<line x1="392.5" y1="414.7" x2="392.5" y2="428" stroke="#000" stroke-width="1.0" />
<line x1="392.5" y1="433.5" x2="392.5" y2="456" stroke="#000" stroke-width="1.0" />
<line x1="392.5" y1="460" x2="392.5" y2="490" stroke="#000" stroke-width="1.0" />
<line x1="392.5" y1="497" x2="392.5" y2="552" stroke="#000" stroke-width="1.0" />
<line x1="278" y1="487.5" x2="324" y2="487.5" stroke="#000" stroke-width="1.0" />
<line x1="334" y1="487.5" x2="342" y2="487.5" stroke="#000" stroke-width="1.0" />
<line x1="352" y1="487.5" x2="391.6" y2="487.5" stroke="#000" stroke-width="1.0" />
<line x1="399.6" y1="487.5" x2="408.5" y2="487.5" stroke="#000" stroke-width="1.0" />
<line x1="415.5" y1="487.5" x2="458" y2="487.5" stroke="#000" stroke-width="1.0" />
<line x1="464" y1="487.5" x2="472" y2="487.5" stroke="#000" stroke-width="1.0" />
<line x1="476" y1="487.5" x2="572.5" y2="487.5" stroke="#000" stroke-width="1.0" />
<line x1="356" y1="398.5" x2="572.5" y2="398.5" stroke="#000" stroke-width="1.0" />
<line x1="356.5" y1="398.3" x2="356.5" y2="413.3" stroke="#000" stroke-width="1.0" />
<line x1="428.5" y1="398.3" x2="428.5" y2="413.3" stroke="#000" stroke-width="1.0" />
<path d="M356 405.5 L373 413" stroke="#000" stroke-width="1.0" fill="none" />
<path d="M414.5 413 L428.5 405.5" stroke="#000" stroke-width="1.0" fill="none" />
<path d="M378.6 411.6 H376.2 Q373.5 411.6 373.5 409.5 V406.2 Q373.5 403.5 376.5 403.5 H402 Q406 403.6 410 405 Q412.5 406 412.5 408.5 V410.8 Q412.6 412.6 414.5 413" stroke="#000" stroke-width="1.2" fill="none" />
<circle cx="379.1" cy="408.3" r="1.7" stroke="#000" stroke-width="1.2" fill="none"/>
<path d="M380.6 409.2 Q380.8 411.4 378.6 411.7" stroke="#000" stroke-width="1.0" fill="none" />
<ellipse cx="408.2" cy="409.4" rx="1.2" ry="2" stroke="#000" stroke-width="1.0" fill="none"/>
<line x1="408.2" y1="411" x2="408.2" y2="414" stroke="#000" stroke-width="1.44" />
<line x1="351" y1="413.5" x2="434" y2="413.5" stroke="#000" stroke-width="1.0" />
<line x1="351" y1="421.5" x2="433" y2="421.5" stroke="#000" stroke-width="1.0" />
<line x1="351.5" y1="413.3" x2="351.5" y2="425.6" stroke="#000" stroke-width="1.0" />
<line x1="433.5" y1="413.3" x2="433.5" y2="425.6" stroke="#000" stroke-width="1.0" />
<rect x="349.2" y="415.6" width="1.8" height="3.4" rx="0" stroke="#000" stroke-width="0.4" fill="#000"/>
<rect x="433" y="415.6" width="3" height="3.8" rx="0" stroke="#000" stroke-width="0.4" fill="#000"/>
<line x1="345" y1="425.5" x2="453" y2="425.5" stroke="#000" stroke-width="1.0" />
<line x1="345.5" y1="425.6" x2="345.5" y2="441" stroke="#000" stroke-width="1.0" />
<path d="M449 425.8 H452.6 V440" stroke="#000" stroke-width="1.5" fill="none" />
<rect x="346.4" y="438.6" width="3.4" height="2.0" rx="0" stroke="#000" stroke-width="0.4" fill="#000"/>
<rect x="406.4" y="438.6" width="3.4" height="2.0" rx="0" stroke="#000" stroke-width="0.4" fill="#000"/>
<rect x="457.4" y="438.6" width="3.4" height="2.0" rx="0" stroke="#000" stroke-width="0.4" fill="#000"/>
<line x1="323" y1="441.5" x2="544" y2="441.5" stroke="#000" stroke-width="1.0" />
<line x1="323" y1="441.5" x2="493" y2="441.5" stroke="#000" stroke-width="1.2" />
<line x1="323" y1="441" x2="323" y2="515.6" stroke="#000" stroke-width="1.5" />
<line x1="330.5" y1="441" x2="330.5" y2="516" stroke="#000" stroke-width="1.0" />
<line x1="330" y1="452.5" x2="493" y2="452.5" stroke="#000" stroke-width="1.0" />
<line x1="330" y1="467" x2="480" y2="467" stroke="#000" stroke-width="1.4" />
<line x1="323" y1="504.5" x2="493" y2="504.5" stroke="#000" stroke-width="1.0" />
<line x1="323" y1="516.5" x2="493" y2="516.5" stroke="#000" stroke-width="1.2" />
<line x1="480.5" y1="441" x2="480.5" y2="516" stroke="#000" stroke-width="1.0" />
<line x1="493" y1="441" x2="493" y2="516" stroke="#000" stroke-width="1.5" />
<line x1="491.5" y1="441" x2="491.5" y2="452.4" stroke="#000" stroke-width="1.0" />
<rect x="480.4" y="485" width="5.8" height="19" rx="1" stroke="#000" stroke-width="1.3" fill="none"/>
<circle cx="328" cy="459.6" r="1.1" stroke="#000" stroke-width="0.4" fill="#000"/>
<circle cx="449.6" cy="472" r="0.4" stroke="#000" stroke-width="0.3" fill="#000"/>
<rect x="341.6" y="441.6" width="11.4" height="3.6" rx="0" stroke="#000" stroke-width="0.3" fill="#777"/>
<rect x="341.6" y="442" width="11.4" height="9.6" rx="0" stroke="#000" stroke-width="1.0" fill="none"/>
<line x1="341.6" y1="445.5" x2="353" y2="445.5" stroke="#000" stroke-width="1.0" />
<line x1="341.6" y1="448.5" x2="353" y2="448.5" stroke="#000" stroke-width="1.0" />
<rect x="364.2" y="457" width="44.2" height="8.2" fill="#000"/>
<rect x="365.40" y="458.60" width="3.0" height="1.3" fill="#aaa"/>
<rect x="365.40" y="462.10" width="3.0" height="1.3" fill="#aaa"/>
<rect x="370.90" y="458.60" width="3.0" height="1.3" fill="#aaa"/>
<rect x="370.90" y="462.10" width="3.0" height="1.3" fill="#aaa"/>
<rect x="376.40" y="458.60" width="3.0" height="1.3" fill="#aaa"/>
<rect x="376.40" y="462.10" width="3.0" height="1.3" fill="#aaa"/>
<rect x="381.90" y="458.60" width="3.0" height="1.3" fill="#aaa"/>
<rect x="381.90" y="462.10" width="3.0" height="1.3" fill="#aaa"/>
<rect x="387.40" y="458.60" width="3.0" height="1.3" fill="#aaa"/>
<rect x="387.40" y="462.10" width="3.0" height="1.3" fill="#aaa"/>
<rect x="392.90" y="458.60" width="3.0" height="1.3" fill="#aaa"/>
<rect x="392.90" y="462.10" width="3.0" height="1.3" fill="#aaa"/>
<rect x="398.40" y="458.60" width="3.0" height="1.3" fill="#aaa"/>
<rect x="398.40" y="462.10" width="3.0" height="1.3" fill="#aaa"/>
<rect x="403.90" y="458.60" width="3.0" height="1.3" fill="#aaa"/>
<rect x="403.90" y="462.10" width="3.0" height="1.3" fill="#aaa"/>
<rect x="364.2" y="468" width="44.2" height="11.4" fill="#000"/>
<line x1="369.5" y1="468.5" x2="369.5" y2="479" stroke="#999" stroke-width="0.4" />
<line x1="375.5" y1="468.5" x2="375.5" y2="479" stroke="#999" stroke-width="0.4" />
<line x1="380.5" y1="468.5" x2="380.5" y2="479" stroke="#999" stroke-width="0.4" />
<line x1="386.5" y1="468.5" x2="386.5" y2="479" stroke="#999" stroke-width="0.4" />
<line x1="391.5" y1="468.5" x2="391.5" y2="479" stroke="#999" stroke-width="0.4" />
<line x1="397.5" y1="468.5" x2="397.5" y2="479" stroke="#999" stroke-width="0.4" />
<line x1="402.5" y1="468.5" x2="402.5" y2="479" stroke="#999" stroke-width="0.4" />
<line x1="364.5" y1="470.5" x2="408" y2="470.5" stroke="#888" stroke-width="0.4" />
<line x1="364.5" y1="473.5" x2="408" y2="473.5" stroke="#888" stroke-width="0.4" />
<line x1="364.5" y1="476.5" x2="408" y2="476.5" stroke="#888" stroke-width="0.4" />
<rect x="312.4" y="460" width="10.6" height="54" rx="0" stroke="#000" stroke-width="1.0" fill="none"/>
<rect x="312.4" y="460" width="2.2" height="54" rx="0" stroke="#666" stroke-width="0.4" fill="#888"/>
<line x1="312.5" y1="460" x2="312.5" y2="514" stroke="#000" stroke-width="1.44" />
<rect x="315" y="476" width="7" height="23" rx="0" stroke="#000" stroke-width="1.0" fill="none"/>
<line x1="315" y1="487.5" x2="322" y2="487.5" stroke="#000" stroke-width="1.0" />
<line x1="278" y1="463.5" x2="312" y2="463.5" stroke="#000" stroke-width="1.0" />
<line x1="312.5" y1="514" x2="312.5" y2="552" stroke="#000" stroke-width="1.0" />
</g>
<line x1="280.5" y1="463" x2="280.5" y2="487.4" stroke="#000" stroke-width="1.0" />
<path d="M281.50 468.40 L280 463 L278.50 468.40 Z" stroke="#000" stroke-width="0.5" fill="#000" />
<path d="M278.50 482.00 L280 487.4 L281.50 482.00 Z" stroke="#000" stroke-width="0.5" fill="#000" />
<text x="276" y="506.5" font-size="10" fill="#000" text-anchor="start" textLength="61" lengthAdjust="spacingAndGlyphs" transform="rotate(-90 276 506.5)">85 [3 11/32]</text>
<line x1="312.3" y1="549.5" x2="393" y2="549.5" stroke="#000" stroke-width="1.0" />
<path d="M317.70 547.50 L312.3 549 L317.70 550.50 Z" stroke="#000" stroke-width="0.5" fill="#000" />
<path d="M387.60 550.50 L393 549 L387.60 547.50 Z" stroke="#000" stroke-width="0.5" fill="#000" />
<text x="318" y="545.6" font-size="10" fill="#000" text-anchor="start" textLength="68" lengthAdjust="spacingAndGlyphs">285.4 [11 1/4]</text>
<line x1="541.5" y1="441" x2="541.5" y2="487.4" stroke="#000" stroke-width="1.0" />
<path d="M543.10 446.40 L541.6 441 L540.10 446.40 Z" stroke="#000" stroke-width="0.5" fill="#000" />
<path d="M540.10 482.00 L541.6 487.4 L543.10 482.00 Z" stroke="#000" stroke-width="0.5" fill="#000" />
<text x="538.6" y="499" font-size="10" fill="#000" text-anchor="start" textLength="69.5" lengthAdjust="spacingAndGlyphs" transform="rotate(-90 538.6 499)">163.3 [6 7/16]</text>
<line x1="570.5" y1="398.4" x2="570.5" y2="487.4" stroke="#000" stroke-width="1.0" />
<path d="M571.80 403.80 L570.3 398.4 L568.80 403.80 Z" stroke="#000" stroke-width="0.5" fill="#000" />
<path d="M568.80 482.00 L570.3 487.4 L571.80 482.00 Z" stroke="#000" stroke-width="0.5" fill="#000" />
<text x="567" y="482" font-size="10" fill="#000" text-anchor="start" textLength="79" lengthAdjust="spacingAndGlyphs" transform="rotate(-90 567 482)">315.3 [12 13/32]</text>
<text x="617.5" y="527.8" font-size="10.2" fill="#000" text-anchor="start" textLength="20.5" lengthAdjust="spacingAndGlyphs">Unit</text>
<line x1="649.5" y1="523.4" x2="649.5" y2="526.4" stroke="#000" stroke-width="1.0" />
<text x="655" y="527.8" font-size="10.2" fill="#000" text-anchor="start" textLength="12.5" lengthAdjust="spacingAndGlyphs">mm</text>
<text x="671.5" y="527.8" font-size="10.2" fill="#000" text-anchor="start">[</text>
<text x="679.5" y="527.8" font-size="10.2" fill="#000" text-anchor="start" textLength="33" lengthAdjust="spacingAndGlyphs">inches</text>
<text x="717" y="527.8" font-size="10.2" fill="#000" text-anchor="start">]</text>
</svg></body></html>
